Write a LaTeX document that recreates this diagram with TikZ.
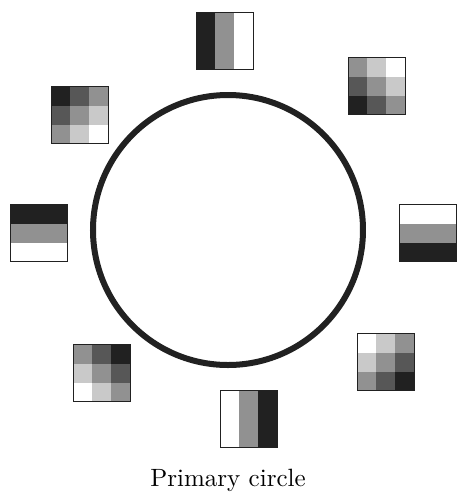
\documentclass[tikz,border=0pt]{standalone}
\usepackage{tikz}
\usetikzlibrary{positioning}

\definecolor{shade0}{gray}{0.13}
\definecolor{shade1}{gray}{0.34}
\definecolor{shade2}{gray}{0.57}
\definecolor{shade3}{gray}{0.79}
\definecolor{shade4}{gray}{1}

% three vertical stripes, dark on the left before rotation
\newcommand{\stripepatch}[4]{%
  \begin{scope}[shift={(#2,#3)}, rotate=#4]
    \foreach \i in {0,1,2}{
      \pgfmathtruncatemacro\lv{2*\i}
      \fill[shade\lv] (-28.5+19*\i,-28.5) rectangle ++(19,57);
    }
  \end{scope}
  \node[patch] (#1) at (#2,#3) {};
}
% 3x3 ramp, dark in the top left corner before rotation
\newcommand{\gridpatch}[4]{%
  \begin{scope}[shift={(#2,#3)}, rotate=#4]
    \foreach \i in {0,1,2}{
      \foreach \j in {0,1,2}{
        \pgfmathtruncatemacro\lv{\i+\j}
        \fill[shade\lv] (-28.5+19*\i,-28.5+19*\j) rectangle ++(19,19);
      }
    }
  \end{scope}
  \node[patch] (#1) at (#2,#3) {};
}

\begin{document}
\begin{tikzpicture}[
  x=0.4pt, y=-0.4pt,
  ring/.style={draw=shade0, circle, line width=2.4pt, minimum size=108pt, inner sep=0pt},
  patch/.style={draw=shade0, line width=0.6pt, minimum size=22.8pt, inner sep=0pt},
  lbl/.style={font=\normalsize, anchor=base}
]
\useasboundingbox (0,0) rectangle (456,496);

\node[ring] (prim) at (228,230) {};

\stripepatch{pn}{225}{41}{0}
\gridpatch{pne}{377}{86}{90}
\stripepatch{pe}{428}{233}{90}
\gridpatch{pse}{386}{362}{180}
\stripepatch{ps}{249}{419}{180}
\gridpatch{psw}{102}{373}{-90}
\stripepatch{pw}{39}{233}{-90}
\gridpatch{pnw}{80}{115}{0}

\node[lbl] (cap) at (228,486) {Primary circle};
\end{tikzpicture}
\end{document}
